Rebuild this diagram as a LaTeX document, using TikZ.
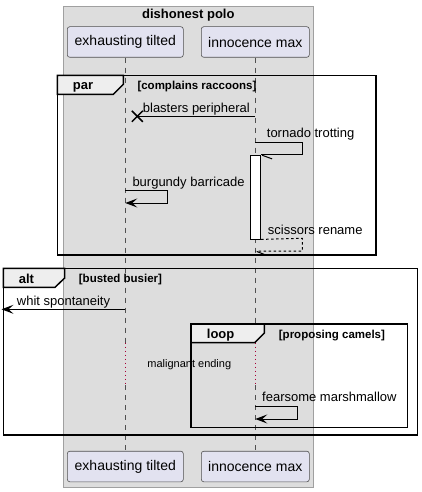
\documentclass[tikz,border=0pt]{standalone}
\usepackage{fontspec}
\setmainfont{Liberation Sans}
\usetikzlibrary{arrows.meta, positioning}
\definecolor{boxgray}{HTML}{DDDDDD}
\definecolor{boxline}{HTML}{A0A0A0}
\definecolor{actorfill}{HTML}{E2E2F0}
\definecolor{actorline}{HTML}{505050}
\definecolor{tabfill}{HTML}{EEEEEE}
\definecolor{delayred}{HTML}{A80036}
\tikzstyle{every node}=[font=\fontsize{13}{15}\selectfont, inner sep=0pt]
\tikzstyle{actor} = [rectangle, draw=actorline, fill=actorfill, rounded corners=2.5pt, minimum height=30.6pt, line width=0.6pt, font=\fontsize{14}{16}\selectfont]
\tikzstyle{life} = [draw=actorline, dash pattern=on 5pt off 5pt, line width=0.6pt]
\tikzstyle{delay} = [draw=delayred, dash pattern=on 1pt off 3pt, line width=0.7pt]
\tikzstyle{msg} = [draw, line width=1pt]
\tikzstyle{line} = [msg, -{Stealth[length=12pt, width=9pt, inset=5pt]}]
\tikzstyle{frame} = [draw, line width=1.5pt]
\tikzstyle{tab} = [draw, fill=tabfill, line width=1.5pt]
\tikzstyle{tabtext} = [anchor=base west, font=\bfseries\fontsize{13}{15}\selectfont]
\tikzstyle{guard} = [anchor=base west, font=\bfseries\fontsize{11.5}{13}\selectfont]
\tikzstyle{label} = [anchor=base west]

\begin{document}
\begin{tikzpicture}[x=1pt, y=-1pt]
    \useasboundingbox (0,0) rectangle (422,492);
    % Box
    \draw [fill=boxgray, draw=boxline, line width=0.8pt] (63.3,6) rectangle (313.3,487);
    \node [anchor=base, font=\bfseries\fontsize{13}{15}\selectfont] (title) at (188.3,19) {dishonest polo};
    % Place nodes
    \node [actor, minimum width=116pt] (et) at (125.3,42) {exhausting tilted};
    \node [actor, minimum width=108pt] (im) at (255.3,42) {innocence max};
    \node [actor, minimum width=116pt] (etb) at (125.3,466.5) {exhausting tilted};
    \node [actor, minimum width=108pt] (imb) at (255.3,466.5) {innocence max};
    \coordinate (d1) at (0,342.7);
    \coordinate (d2) at (0,385);
    % Lifelines
    \path [life] (et.south) -- (et |- d1);
    \path [delay] (et |- d1) -- (et |- d2);
    \path [life] (et |- d2) -- (etb.north);
    \path [life] (im.south) -- (im |- d1);
    \path [delay] (im |- d1) -- (im |- d2);
    \path [life] (im |- d2) -- (imb.north);
    % par
    \path [frame] (57.3,75.3) rectangle (376,255);
    \path [tab] (57.3,75.3) -- (123.3,75.3) -- (123.3,84.3) -- (113.3,94.3) -- (57.3,94.3) -- cycle;
    \node [tabtext] (par) at (72.7,90) {par};
    \node [guard] (parg) at (137.3,89.3) {[complains raccoons]};
    % alt
    \path [frame] (3.3,268.3) rectangle (417.7,435);
    \path [tab] (3.3,268.3) -- (64.7,268.3) -- (64.7,278) -- (55,287.3) -- (3.3,287.3) -- cycle;
    \node [tabtext] (alt) at (18.7,283) {alt};
    \node [guard] (altg) at (78.7,282.3) {[busted busier]};
    % loop
    \path [frame] (191,324) rectangle (407.7,427.3);
    \path [tab] (191,324) -- (264.3,324) -- (264.3,333) -- (254.7,342.7) -- (191,342.7) -- cycle;
    \node [tabtext] (loop) at (206.7,338.3) {loop};
    \node [guard] (loopg) at (278.7,338.3) {[proposing camels]};
    % Draw edges
    \coordinate (m1) at (0,116.3);
    \coordinate (x1) at (137.3,116.3);
    \path [msg] (im |- m1) -- (x1);
    \path [msg, line width=1.5pt] (x1) ++(-5.5,-5.5) -- ++(11,11) ++(-11,0) -- ++(11,-11);
    \node [label] (l1) at (142.7,112.3) {blasters peripheral};
    \node [draw, fill=white, line width=0.8pt, minimum width=10pt, minimum height=83.7pt] (act) at (255.7,197.15) {};
    \coordinate (m2) at (0,142.7);
    \path [msg] (im |- m2) -- (302.3,142.7) |- (act.north east);
    \path [msg] (act.north east) ++(1,0.3) -- ++(10,3.7);
    \node [label] (l2) at (266.7,137.3) {tornado trotting};
    \coordinate (m3) at (0,190.3);
    \coordinate (m3b) at (0,203);
    \path [line] (et |- m3) -- (167.3,190.3) |- (et |- m3b);
    \node [label] (l3) at (132.3,186) {burgundy barricade};
    \coordinate (m4) at (0,251);
    \path [msg, dashed, dash pattern=on 2.5pt off 2.5pt] (act.south east) -- (302.3,238.3) |- (im |- m4);
    \path [msg] (im |- m4) ++(1.5,0.5) -- ++(9,3.5);
    \node [label] (l4) at (267.7,234.3) {scissors rename};
    \coordinate (m5) at (1.5,309.3);
    \path [line] (et |- m5) -- (m5);
    \node [label] (l5) at (16.7,305) {whit spontaneity};
    \node [anchor=base, font=\fontsize{11}{13}\selectfont] (dl) at (189.3,367.3) {malignant ending};
    \coordinate (m6) at (0,406.7);
    \coordinate (m6b) at (0,419);
    \path [line] (im |- m6) -- (297.3,406.7) |- (im |- m6b);
    \node [label] (l6) at (262,401.7) {fearsome marshmallow};
\end{tikzpicture}
\end{document}
